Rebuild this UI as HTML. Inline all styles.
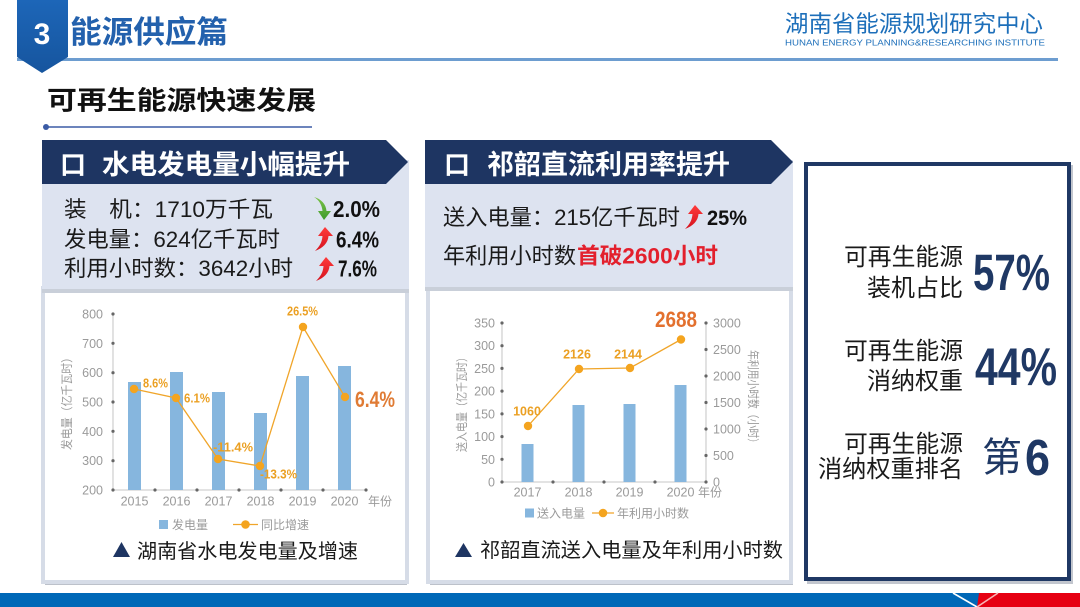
<!DOCTYPE html>
<html><head><meta charset="utf-8"><style>
html,body{margin:0;padding:0;background:#fff;}
svg{display:block;}
text{font-family:"Liberation Sans","Noto Sans CJK SC",sans-serif;}
</style></head><body>
<svg width="1080" height="607" viewBox="0 0 1080 607" xmlns="http://www.w3.org/2000/svg">
<defs>
<linearGradient id="rg" x1="0" y1="0" x2="0" y2="1"><stop offset="0" stop-color="#ff3b3b"/><stop offset="1" stop-color="#d4121e"/></linearGradient>
<linearGradient id="gg" x1="0" y1="0" x2="0" y2="1"><stop offset="0" stop-color="#7cc24a"/><stop offset="1" stop-color="#3d9a2a"/></linearGradient>
<linearGradient id="tab" x1="0" y1="0" x2="0" y2="1"><stop offset="0" stop-color="#1d66b8"/><stop offset="1" stop-color="#16559e"/></linearGradient>
<path id="up" d="M13,0 L21,9 L16.5,9 C16,16 11,21 3,24 C8,19 10,15 10.5,9 L6,9 Z"/>
<path id="down" d="M2,0 C9,2 14,7 14.5,14 L19,14 L12,23 L6,14 L10.5,14 C10,8 7,3 2,0 Z"/>
</defs>

<!-- Header -->
<rect x="17" y="58" width="1041" height="3" fill="#6d9dd0"/>
<polygon points="17,0 68,0 68,57 42,73 17,57" fill="url(#tab)"/>
<text x="42" y="44" font-size="30" font-weight="bold" fill="#fff" text-anchor="middle">3</text>
<text x="70" y="43" font-size="31" font-weight="bold" fill="#2361ad" textLength="158" lengthAdjust="spacingAndGlyphs">能源供应篇</text>
<text x="785" y="31.5" font-size="23" fill="#1d6fba" textLength="258" lengthAdjust="spacingAndGlyphs">湖南省能源规划研究中心</text>
<text x="785" y="45.5" font-size="8.5" fill="#1d6fba" textLength="260" lengthAdjust="spacingAndGlyphs">HUNAN ENERGY PLANNING&amp;RESEARCHING INSTITUTE</text>

<text x="47" y="109.5" font-size="26" font-weight="bold" fill="#111" textLength="269" lengthAdjust="spacingAndGlyphs">可再生能源快速发展</text>
<line x1="46" y1="127" x2="312" y2="127" stroke="#3b5ba5" stroke-width="1.5"/>
<circle cx="46" cy="127" r="3" fill="#3b5ba5"/>

<!-- LEFT CARD -->
<rect x="45" y="290" width="362" height="295" fill="#bcc1ca"/>
<rect x="43" y="288" width="364" height="294" fill="#fff" stroke="#d6dce7" stroke-width="4"/>
<rect x="42" y="160" width="367" height="129" fill="#dde3f0"/>
<rect x="42" y="289" width="367" height="4" fill="#c9cfd9"/>
<polygon points="42,140 386,140 408,162 386,184 42,184" fill="#1e3562"/>
<text x="60" y="174" font-size="26" font-weight="bold" fill="#fff">口</text>
<text x="102" y="174" font-size="27" font-weight="bold" fill="#fff" textLength="248" lengthAdjust="spacingAndGlyphs">水电发电量小幅提升</text>

<text x="64" y="217" font-size="22" fill="#1a1a1a" textLength="209" lengthAdjust="spacingAndGlyphs">装　机：1710万千瓦</text>
<text x="64" y="247" font-size="22" fill="#1a1a1a" textLength="216" lengthAdjust="spacingAndGlyphs">发电量：624亿千瓦时</text>
<text x="64" y="276" font-size="22" fill="#1a1a1a" textLength="229" lengthAdjust="spacingAndGlyphs">利用小时数：3642小时</text>
<use href="#down" transform="translate(312,197)" fill="url(#gg)"/>
<use href="#up" transform="translate(312,227)" fill="url(#rg)"/>
<use href="#up" transform="translate(313,257)" fill="url(#rg)"/>
<text x="333" y="217" font-size="23.5" font-weight="bold" fill="#111" textLength="47" lengthAdjust="spacingAndGlyphs">2.0%</text>
<text x="336" y="247.5" font-size="23.5" font-weight="bold" fill="#111" textLength="43" lengthAdjust="spacingAndGlyphs">6.4%</text>
<text x="338" y="276.5" font-size="23.5" font-weight="bold" fill="#111" textLength="39" lengthAdjust="spacingAndGlyphs">7.6%</text>

<!-- Left chart -->
<g font-size="12.5" fill="#9a9a9a" text-anchor="end">
<text x="103" y="318.5">800</text><text x="103" y="347.8">700</text><text x="103" y="377.2">600</text>
<text x="103" y="406.5">500</text><text x="103" y="435.8">400</text><text x="103" y="465.2">300</text><text x="103" y="494.5">200</text>
</g>
<line x1="113" y1="314" x2="113" y2="490" stroke="#b5b5b5" stroke-width="0.8"/>
<line x1="113" y1="490" x2="366" y2="490" stroke="#b5b5b5" stroke-width="0.8"/>
<g fill="#666">
<circle cx="113" cy="314" r="1.6"/><circle cx="113" cy="343.3" r="1.6"/><circle cx="113" cy="372.7" r="1.6"/><circle cx="113" cy="402" r="1.6"/><circle cx="113" cy="431.3" r="1.6"/><circle cx="113" cy="460.7" r="1.6"/><circle cx="113" cy="490" r="1.6"/>
<circle cx="155" cy="490" r="1.6"/><circle cx="197" cy="490" r="1.6"/><circle cx="239" cy="490" r="1.6"/><circle cx="281" cy="490" r="1.6"/><circle cx="323" cy="490" r="1.6"/><circle cx="366" cy="490" r="1.6"/>
</g>
<g fill="#86b6de">
<rect x="128" y="382" width="13" height="108"/><rect x="170" y="372" width="13" height="118"/>
<rect x="212" y="392" width="13" height="98"/><rect x="254" y="413" width="13" height="77"/>
<rect x="296" y="376" width="13" height="114"/><rect x="338" y="366" width="13" height="124"/>
</g>
<polyline points="134,389 176,398 218,459 260,466 303,327 345,397" fill="none" stroke="#f0a52a" stroke-width="1.3"/>
<g fill="#f4a41f">
<circle cx="134" cy="389" r="4.2"/><circle cx="176" cy="398" r="4.2"/><circle cx="218" cy="459" r="4.2"/>
<circle cx="260" cy="466" r="4.2"/><circle cx="303" cy="327" r="4.2"/><circle cx="345" cy="397" r="4.2"/>
</g>
<g font-size="12.5" font-weight="bold" fill="#eba023">
<text x="143" y="387.5" textLength="25" lengthAdjust="spacingAndGlyphs">8.6%</text>
<text x="184" y="402.5" textLength="26" lengthAdjust="spacingAndGlyphs">6.1%</text>
<text x="213" y="451.5" textLength="40" lengthAdjust="spacingAndGlyphs">-11.4%</text>
<text x="260" y="478.5" textLength="37" lengthAdjust="spacingAndGlyphs">-13.3%</text>
<text x="287" y="315.5" textLength="31" lengthAdjust="spacingAndGlyphs">26.5%</text>
</g>
<text x="355" y="407" font-size="22" font-weight="bold" fill="#e07b34" textLength="40" lengthAdjust="spacingAndGlyphs">6.4%</text>
<g font-size="12.5" fill="#9a9a9a" text-anchor="middle">
<text x="134.5" y="505.5">2015</text><text x="176.5" y="505.5">2016</text><text x="218.5" y="505.5">2017</text>
<text x="260.5" y="505.5">2018</text><text x="302.5" y="505.5">2019</text><text x="344.5" y="505.5">2020</text>
</g>
<text x="368" y="505.5" font-size="12" fill="#9a9a9a">年份</text>
<text transform="translate(71,401) rotate(-90)" font-size="12" fill="#9a9a9a" text-anchor="middle" textLength="98" lengthAdjust="spacingAndGlyphs">发电量（亿千瓦时）</text>
<rect x="159" y="520" width="9" height="9" fill="#86b6de"/>
<text x="172" y="529" font-size="12" fill="#9a9a9a">发电量</text>
<line x1="233" y1="524.5" x2="258" y2="524.5" stroke="#f0a52a" stroke-width="1.3"/>
<circle cx="245.5" cy="524.5" r="4.3" fill="#f4a41f"/>
<text x="261" y="529" font-size="12" fill="#9a9a9a">同比增速</text>
<polygon points="113,557 121.5,542 130,557" fill="#1e3562"/>
<text x="137" y="558" font-size="20" fill="#1a1a1a" textLength="221" lengthAdjust="spacingAndGlyphs">湖南省水电发电量及增速</text>

<!-- RIGHT CARD -->
<rect x="430" y="290" width="363" height="295" fill="#bcc1ca"/>
<rect x="428" y="288" width="363" height="294" fill="#fff" stroke="#d6dce7" stroke-width="4"/>
<rect x="425" y="160" width="368" height="127" fill="#dde3f0"/>
<rect x="425" y="287" width="368" height="4" fill="#c9cfd9"/>
<polygon points="425,140 771,140 793,162 771,184 425,184" fill="#1e3562"/>
<text x="444" y="174" font-size="26" font-weight="bold" fill="#fff">口</text>
<text x="487" y="174" font-size="27" font-weight="bold" fill="#fff" textLength="243" lengthAdjust="spacingAndGlyphs">祁韶直流利用率提升</text>
<text x="443" y="225" font-size="22" fill="#1a1a1a" textLength="237" lengthAdjust="spacingAndGlyphs">送入电量：215亿千瓦时</text>
<use href="#up" transform="translate(682,205)" fill="url(#rg)"/>
<text x="707" y="225" font-size="21" font-weight="bold" fill="#111" textLength="40" lengthAdjust="spacingAndGlyphs">25%</text>
<text x="443" y="263.5" font-size="22" fill="#1a1a1a" textLength="133" lengthAdjust="spacingAndGlyphs">年利用小时数</text>
<text x="577" y="263.5" font-size="22" font-weight="bold" fill="#e3202d" textLength="141" lengthAdjust="spacingAndGlyphs">首破2600小时</text>

<!-- Right chart -->
<g font-size="12.5" fill="#9a9a9a" text-anchor="end">
<text x="495" y="327.5">350</text><text x="495" y="350.2">300</text><text x="495" y="372.9">250</text><text x="495" y="395.6">200</text>
<text x="495" y="418.4">150</text><text x="495" y="441.1">100</text><text x="495" y="463.8">50</text><text x="495" y="486.5">0</text>
</g>
<g font-size="12.5" fill="#9a9a9a">
<text x="713" y="327.5">3000</text><text x="713" y="354">2500</text><text x="713" y="380.5">2000</text><text x="713" y="407">1500</text>
<text x="713" y="433.5">1000</text><text x="713" y="460">500</text><text x="713" y="486.5">0</text>
</g>
<line x1="502" y1="323" x2="502" y2="482" stroke="#b5b5b5" stroke-width="0.8"/>
<line x1="706" y1="323" x2="706" y2="482" stroke="#b5b5b5" stroke-width="0.8"/>
<line x1="502" y1="482" x2="706" y2="482" stroke="#b5b5b5" stroke-width="0.8"/>
<g fill="#666">
<circle cx="502" cy="323" r="1.6"/><circle cx="502" cy="345.7" r="1.6"/><circle cx="502" cy="368.4" r="1.6"/><circle cx="502" cy="391.1" r="1.6"/>
<circle cx="502" cy="413.9" r="1.6"/><circle cx="502" cy="436.6" r="1.6"/><circle cx="502" cy="459.3" r="1.6"/><circle cx="502" cy="482" r="1.6"/>
<circle cx="706" cy="323" r="1.6"/><circle cx="706" cy="349.5" r="1.6"/><circle cx="706" cy="376" r="1.6"/><circle cx="706" cy="402.5" r="1.6"/>
<circle cx="706" cy="429" r="1.6"/><circle cx="706" cy="455.5" r="1.6"/><circle cx="706" cy="482" r="1.6"/>
<circle cx="553" cy="482" r="1.6"/><circle cx="604" cy="482" r="1.6"/><circle cx="655" cy="482" r="1.6"/>
</g>
<g fill="#86b6de">
<rect x="521.5" y="444" width="12" height="38"/><rect x="572.5" y="405" width="12" height="77"/>
<rect x="623.5" y="404" width="12" height="78"/><rect x="674.5" y="385" width="12" height="97"/>
</g>
<polyline points="528,426 579,369 630,368 681,339.5" fill="none" stroke="#f0a52a" stroke-width="1.3"/>
<g fill="#f4a41f">
<circle cx="528" cy="426" r="4.2"/><circle cx="579" cy="369" r="4.2"/><circle cx="630" cy="368" r="4.2"/><circle cx="681" cy="339.5" r="4.2"/>
</g>
<g font-size="12.5" font-weight="bold" fill="#eba023" text-anchor="middle">
<text x="527" y="415.5">1060</text><text x="577" y="358.5">2126</text><text x="628" y="358.5">2144</text>
</g>
<text x="655" y="327" font-size="22" font-weight="bold" fill="#e3702e" textLength="42" lengthAdjust="spacingAndGlyphs">2688</text>
<g font-size="12.5" fill="#9a9a9a" text-anchor="middle">
<text x="527.5" y="496.5">2017</text><text x="578.5" y="496.5">2018</text><text x="629.5" y="496.5">2019</text><text x="680.5" y="496.5">2020</text>
</g>
<text x="698" y="496.5" font-size="12" fill="#9a9a9a">年份</text>
<text transform="translate(466,402) rotate(-90)" font-size="12" fill="#9a9a9a" text-anchor="middle" textLength="100" lengthAdjust="spacingAndGlyphs">送入电量（亿千瓦时）</text>
<text transform="translate(749,399) rotate(90)" font-size="12" fill="#9a9a9a" text-anchor="middle" textLength="98" lengthAdjust="spacingAndGlyphs">年利用小时数（小时）</text>
<rect x="525" y="508.5" width="9" height="9" fill="#86b6de"/>
<text x="537" y="517.5" font-size="12" fill="#9a9a9a">送入电量</text>
<line x1="592" y1="513" x2="614" y2="513" stroke="#f0a52a" stroke-width="1.3"/>
<circle cx="603" cy="513" r="4.3" fill="#f4a41f"/>
<text x="617" y="517.5" font-size="12" fill="#9a9a9a">年利用小时数</text>
<polygon points="455,557 463.5,543 472,557" fill="#1e3562"/>
<text x="480" y="557" font-size="20" fill="#1a1a1a" textLength="303" lengthAdjust="spacingAndGlyphs">祁韶直流送入电量及年利用小时数</text>

<!-- RIGHT BOX -->
<rect x="807" y="165" width="266" height="419" fill="#c2c6ce"/>
<rect x="806" y="164" width="263" height="415" fill="#fff" stroke="#1f3864" stroke-width="4"/>
<g font-size="24" fill="#1a1a1a" text-anchor="end">
<text x="963" y="265" textLength="119" lengthAdjust="spacingAndGlyphs">可再生能源</text>
<text x="963" y="296" textLength="96" lengthAdjust="spacingAndGlyphs">装机占比</text>
<text x="963" y="359" textLength="119" lengthAdjust="spacingAndGlyphs">可再生能源</text>
<text x="963" y="389" textLength="96" lengthAdjust="spacingAndGlyphs">消纳权重</text>
<text x="963" y="452" textLength="119" lengthAdjust="spacingAndGlyphs">可再生能源</text>
<text x="963" y="477" textLength="145" lengthAdjust="spacingAndGlyphs">消纳权重排名</text>
</g>
<text x="973" y="290" font-size="51" font-weight="bold" fill="#1f3864" textLength="77" lengthAdjust="spacingAndGlyphs">57%</text>
<text x="975" y="385" font-size="53" font-weight="bold" fill="#1f3864" textLength="82" lengthAdjust="spacingAndGlyphs">44%</text>
<text x="982" y="471" font-size="40" fill="#1f3864" textLength="40" lengthAdjust="spacingAndGlyphs">第</text>
<text x="1025" y="475" font-size="51" font-weight="bold" fill="#1f3864" textLength="25" lengthAdjust="spacingAndGlyphs">6</text>

<!-- Bottom bar -->
<rect x="0" y="593" width="1080" height="14" fill="#0068b7"/>
<polygon points="979,593 1080,593 1080,607 977,607" fill="#e60012"/>
<line x1="953" y1="593" x2="977" y2="607" stroke="#fff" stroke-width="1.6"/>
<line x1="998" y1="593" x2="977" y2="607" stroke="#f7b5b5" stroke-width="1.6"/>
</svg>
</body></html>
